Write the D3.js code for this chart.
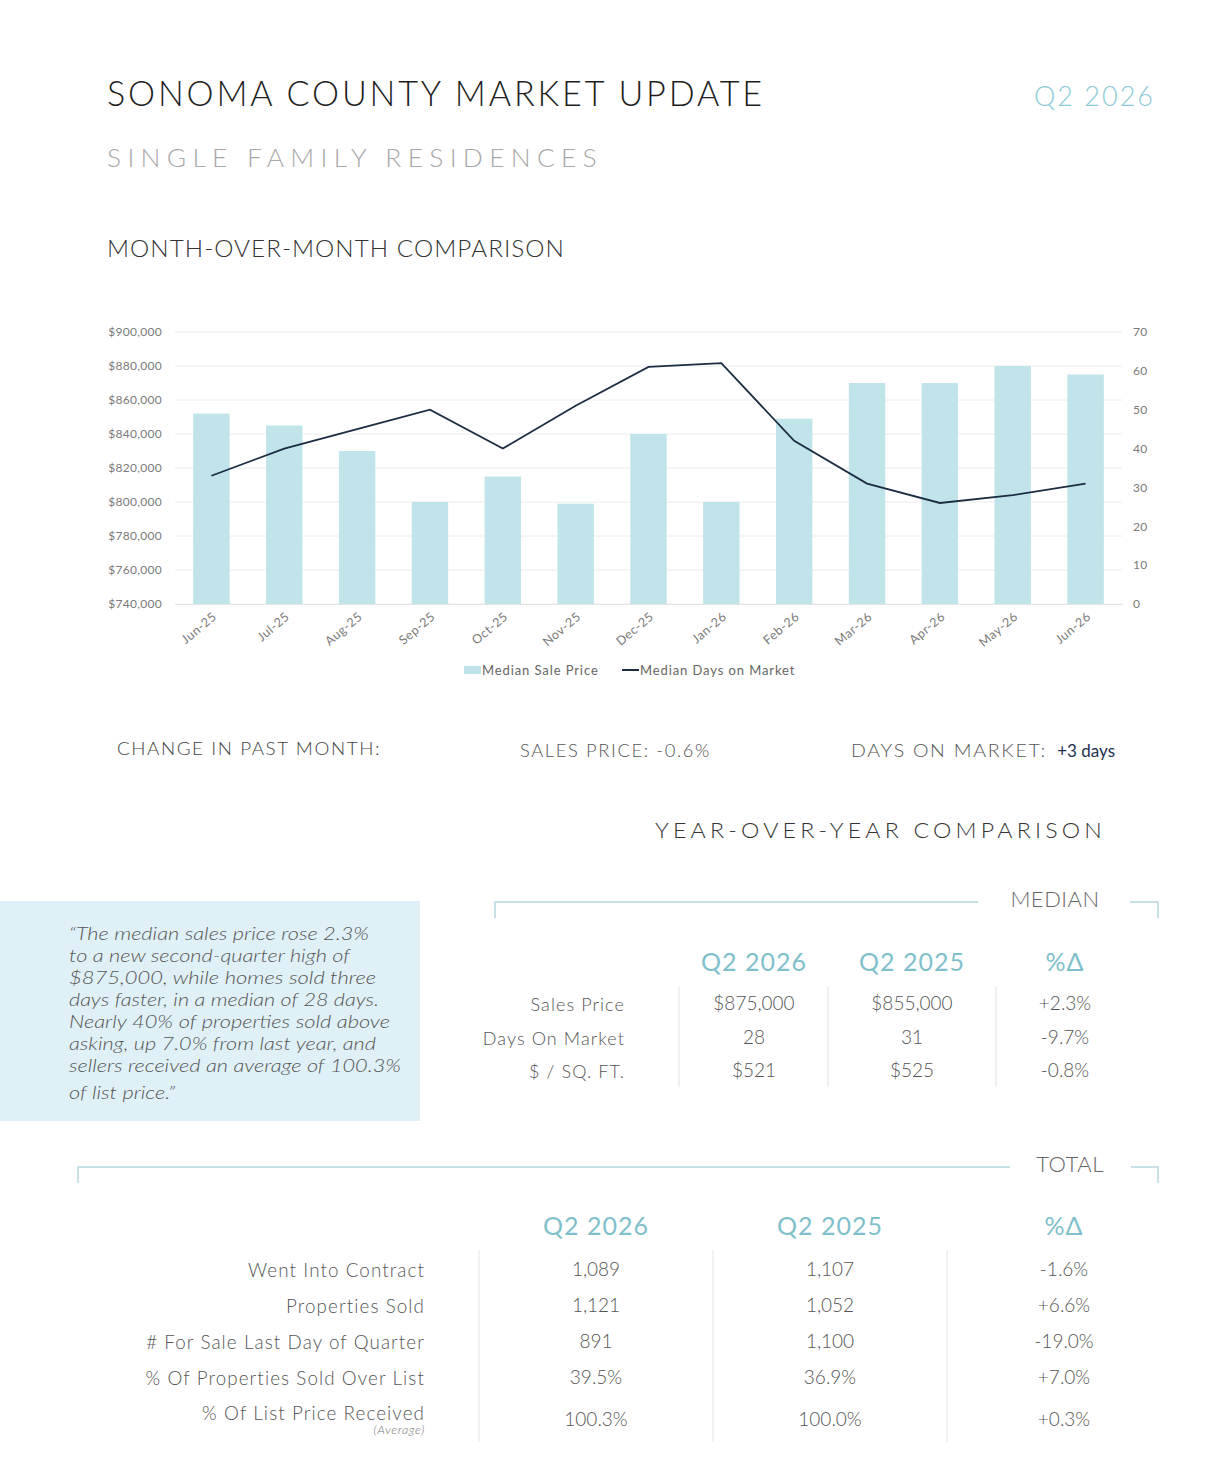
<!DOCTYPE html>
<html>
  <head>
    <meta charset="utf-8">
    <script src="https://cdn.jsdelivr.net/npm/d3@7"></script>
    <style>
      body { margin: 0; background: #fff; }
      svg text { font-family: "Lato", "Open Sans", sans-serif; }
    </style>
  </head>
  <body>
    <script>
      // monthly series (month-over-month chart)
      var months = ["Jun-25", "Jul-25", "Aug-25", "Sep-25", "Oct-25", "Nov-25", "Dec-25",
                    "Jan-26", "Feb-26", "Mar-26", "Apr-26", "May-26", "Jun-26"];
      var salePrice = [852000, 845000, 830000, 800000, 815000, 799000, 840000,
                       800000, 849000, 870000, 870000, 880000, 875000];
      var daysOnMarket = [33, 40, 45, 50, 40, 51, 61, 62, 42, 31, 26, 28, 31];
      var priceTicks = [740000, 760000, 780000, 800000, 820000, 840000, 860000, 880000, 900000];
      var dayTicks = [0, 10, 20, 30, 40, 50, 60, 70];

      // year-over-year tables
      var yoyHeaders = ["Q2 2026", "Q2 2025", "%\u0394"];
      var medianLabels = ["Sales Price", "Days On Market", "$ / SQ. FT."];
      var medianQ2026 = ["$875,000", "28", "$521"];
      var medianQ2025 = ["$855,000", "31", "$525"];
      var medianPct = ["+2.3%", "-9.7%", "-0.8%"];

      var totalLabels = ["Went Into Contract", "Properties Sold", "# For Sale Last Day of Quarter",
                         "% Of Properties Sold Over List", "% Of List Price Received"];
      var totalQ2026 = ["1,089", "1,121", "891", "39.5%", "100.3%"];
      var totalQ2025 = ["1,107", "1,052", "1,100", "36.9%", "100.0%"];
      var totalPct = ["-1.6%", "+6.6%", "-19.0%", "+7.0%", "+0.3%"];

      var quoteLines = ["\u201CThe median sales price rose 2.3%",
                        "to a new second-quarter high of",
                        "$875,000, while homes sold three",
                        "days faster, in a median of 28 days.",
                        "Nearly 40% of properties sold above",
                        "asking, up 7.0% from last year, and",
                        "sellers received an average of 100.3%",
                        "of list price.\u201D"];

      var width = 1224, height = 1468;
      var teal = "#7fc0cc", bracket = "#b5d8e0", bar = "#c0e4e9", navy = "#1c2c42";

      var svg = d3.select("body").append("svg")
          .attr("width", width)
          .attr("height", height);

      // header texts
      function label(x, y, txt, size, opts) {
        opts = opts || {};
        var t = svg.append("text")
            .attr("x", x).attr("y", y)
            .attr("text-anchor", opts.anchor || "start")
            .style("font-size", size + "px")
            .style("font-weight", opts.weight || 300)
            .style("fill", opts.color || "#444")
            .style("letter-spacing", (opts.ls || 0) + "px")
            .text(txt);
        if (opts.len) t.attr("textLength", opts.len).attr("lengthAdjust", "spacingAndGlyphs");
        if (opts.italic) t.style("font-style", "italic");
        return t;
      }

      label(107, 106, "SONOMA COUNTY MARKET UPDATE", 36, {color: "#1e1e1e", len: 658, ls: 3});
      label(1155, 106, "Q2 2026", 27, {color: "#8ccbd6", anchor: "end", ls: 2});
      label(107, 167, "SINGLE FAMILY RESIDENCES", 25, {color: "#a8a8a8", len: 496, ls: 6});
      label(107, 257, "MONTH-OVER-MONTH COMPARISON", 23, {color: "#333", len: 458, ls: 1});

      // chart
      var x = d3.scaleBand().domain(months).range([175, 1122])
          .paddingInner(0.5).paddingOuter(0.25);
      var yPrice = d3.scaleLinear().domain([740000, 900000]).range([604, 332]);
      var yDays = d3.scaleLinear().domain([0, 70]).range([604, 332]);

      var chart = svg.append("g").attr("class", "chart");

      chart.append("g").selectAll("line")
        .data(priceTicks).enter().append("line")
          .attr("x1", 175).attr("x2", 1122)
          .attr("y1", function(d) { return yPrice(d); })
          .attr("y2", function(d) { return yPrice(d); })
          .style("stroke", "#ececec").style("stroke-width", 1);

      var leftAxis = chart.append("g")
          .attr("transform", "translate(166,0)")
          .call(d3.axisLeft(yPrice).tickValues(priceTicks).tickSize(0).tickPadding(4)
                .tickFormat(function(d) { return "$" + d3.format(",")(d); }));
      var rightAxis = chart.append("g")
          .attr("transform", "translate(1129,0)")
          .call(d3.axisRight(yDays).tickValues(dayTicks).tickSize(0).tickPadding(4));
      [leftAxis, rightAxis].forEach(function(a) {
        a.select(".domain").remove();
        a.selectAll("text").style("font-size", "12px").style("fill", "#7a7a7a")
          .style("font-family", "Lato, sans-serif").style("font-weight", 400)
          .style("letter-spacing", "0.3px");
      });

      chart.append("g").selectAll("rect")
        .data(months).enter().append("rect")
          .attr("x", function(d) { return x(d); })
          .attr("width", x.bandwidth())
          .attr("y", function(d, i) { return yPrice(salePrice[i]); })
          .attr("height", function(d, i) { return yPrice(740000) - yPrice(salePrice[i]); })
          .style("fill", bar);

      var line = d3.line()
          .x(function(d, i) { return x(months[i]) + x.bandwidth() / 2; })
          .y(function(d) { return yDays(d); });
      chart.append("path")
          .datum(daysOnMarket)
          .attr("d", line)
          .style("fill", "none")
          .style("stroke", navy)
          .style("stroke-width", 1.8);

      var bottomAxis = chart.append("g")
          .attr("transform", "translate(0,604)")
          .call(d3.axisBottom(x).tickSize(0).tickPadding(0));
      bottomAxis.select(".domain").style("stroke", "#e4e4e4");
      bottomAxis.selectAll("text")
          .attr("dy", 0).attr("y", 0)
          .attr("transform", "translate(6,14) rotate(-40)")
          .style("text-anchor", "end")
          .style("font-size", "12.5px").style("fill", "#7a7a7a")
          .style("font-family", "Lato, sans-serif").style("font-weight", 400)
          .style("letter-spacing", "0.5px");

      // legend
      var legend = chart.append("g").attr("class", "legend");
      legend.append("rect").attr("x", 464).attr("y", 666).attr("width", 17).attr("height", 8).style("fill", bar);
      legend.append("text").attr("x", 482).attr("y", 675).text("Median Sale Price")
          .style("font-size", "13px").style("fill", "#666").style("font-weight", 400)
          .style("letter-spacing", "0.9px");
      legend.append("line").attr("x1", 622).attr("x2", 639).attr("y1", 670).attr("y2", 670)
          .style("stroke", navy).style("stroke-width", 2);
      legend.append("text").attr("x", 640).attr("y", 675).text("Median Days on Market")
          .style("font-size", "13px").style("fill", "#666").style("font-weight", 400)
          .style("letter-spacing", "0.9px");

      // change in past month
      label(117, 755, "CHANGE IN PAST MONTH:", 18, {color: "#444", len: 264, ls: 1.5});
      label(520, 757, "SALES PRICE: -0.6%", 17, {color: "#555", len: 191, ls: 1.5});
      label(851, 757, "DAYS ON MARKET: ", 17, {color: "#555", len: 196, ls: 1.5});
      label(1115, 757, "+3 days", 17, {color: "#1d3050", anchor: "end", weight: 400});

      label(655, 838, "YEAR-OVER-YEAR COMPARISON", 22, {color: "#333", len: 451, ls: 4});

      // quote box: tight leading as in the reference, glyphs scaled to the line width
      svg.append("rect").attr("x", 0).attr("y", 901).attr("width", 420).attr("height", 220)
          .style("fill", "#dff0f7");
      var quoteWidths = [300, 281, 307, 310, 321, 307, 332, 106];
      svg.append("g").selectAll("text")
        .data(quoteLines).enter().append("text")
          .attr("x", 69)
          .attr("y", function(d, i) { return 940 + i * 22 + (i === 7 ? 5 : 0); })
          .attr("textLength", function(d, i) { return quoteWidths[i]; })
          .attr("lengthAdjust", "spacingAndGlyphs")
          .style("font-size", "18.5px").style("font-style", "italic").style("font-weight", 300)
          .style("fill", "#555")
          .text(function(d) { return d; });

      // bracket with title
      function bracketLine(x0, x1, gapStart, gapEnd, y, title, titleX) {
        var g = svg.append("g");
        g.append("path")
            .attr("d", "M" + x0 + "," + (y + 16) + "V" + y + "H" + gapStart)
            .style("fill", "none").style("stroke", bracket).style("stroke-width", 1.5);
        g.append("path")
            .attr("d", "M" + gapEnd + "," + y + "H" + x1 + "V" + (y + 16))
            .style("fill", "none").style("stroke", bracket).style("stroke-width", 1.5);
        label(titleX, y + 5, title, 22, {color: "#666", anchor: "middle", ls: 0.5});
      }

      // generic table
      function table(opts) {
        var g = svg.append("g");
        g.selectAll(".hdr").data(yoyHeaders).enter().append("text")
            .attr("x", function(d, i) { return opts.cols[i]; })
            .attr("y", opts.headerY)
            .attr("text-anchor", "middle")
            .style("font-size", "25px").style("font-weight", 400)
            .style("letter-spacing", "1px")
            .style("fill", teal)
            .text(function(d) { return d; });
        g.selectAll(".sep").data(opts.seps).enter().append("line")
            .attr("x1", function(d) { return d; }).attr("x2", function(d) { return d; })
            .attr("y1", opts.sepY[0]).attr("y2", opts.sepY[1])
            .style("stroke", "#e3e3e3").style("stroke-width", 1);
        g.selectAll(".lbl").data(opts.labels).enter().append("text")
            .attr("x", opts.labelX)
            .attr("y", function(d, i) { return opts.rowY[i]; })
            .attr("text-anchor", "end")
            .style("font-size", opts.labelSize + "px").style("font-weight", 300)
            .style("letter-spacing", "1.1px")
            .style("fill", "#555")
            .text(function(d) { return d; });
        [opts.a, opts.b, opts.c].forEach(function(col, ci) {
          g.selectAll(".v" + ci).data(col).enter().append("text")
              .attr("x", opts.cols[ci])
              .attr("y", function(d, i) { return opts.valY[i]; })
              .attr("text-anchor", "middle")
              .style("font-size", "19px").style("font-weight", 300)
              .style("fill", "#555")
              .text(function(d) { return d; });
        });
        return g;
      }

      bracketLine(495, 1158, 978, 1130, 902, "MEDIAN", 1055);
      table({
        cols: [754, 912, 1065], headerY: 971, seps: [679, 828, 996], sepY: [987, 1087],
        labels: medianLabels, labelX: 625, labelSize: 18,
        rowY: [1011, 1045, 1078], valY: [1010, 1044, 1077],
        a: medianQ2026, b: medianQ2025, c: medianPct
      });

      bracketLine(78, 1158, 1010, 1131, 1167, "TOTAL", 1070);
      table({
        cols: [596, 830, 1064], headerY: 1235, seps: [479, 713, 947], sepY: [1250, 1442],
        labels: totalLabels, labelX: 425, labelSize: 18.8,
        rowY: [1277, 1313, 1349, 1385, 1420],
        valY: [1276, 1312, 1348, 1384, 1426],
        a: totalQ2026, b: totalQ2025, c: totalPct
      });
      label(425, 1434, "(Average)", 12.5, {color: "#777", anchor: "end", italic: true, ls: 0.6});
    </script>
  </body>
</html>
